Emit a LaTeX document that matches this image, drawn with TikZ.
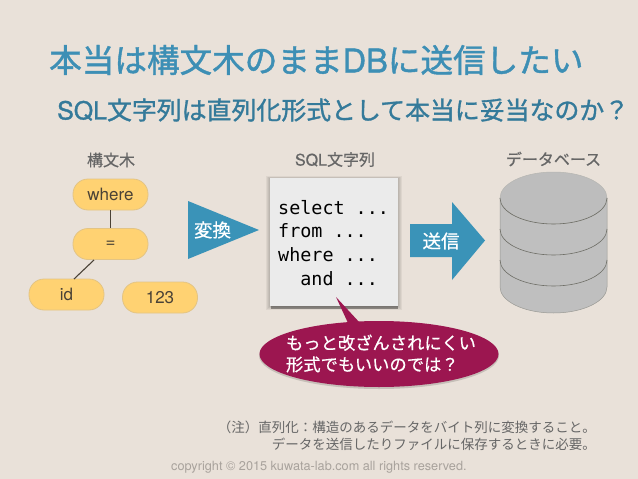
\documentclass[tikz,border=0pt]{standalone}
\usepackage{fontspec}
\setmainfont{Noto Sans CJK JP}
\newfontfamily\semib[FakeBold=0.5]{Noto Sans CJK JP}
\newfontfamily\strongf[FakeBold=1.3]{Noto Sans CJK JP}
\newfontfamily\latinf{TeX Gyre Heros}
\newfontfamily\latinb[FakeBold=0.5]{TeX Gyre Heros}
\newfontfamily\latins[FakeBold=1.3]{TeX Gyre Heros}
\newfontfamily\codef{DejaVu Sans Mono}
\definecolor{bgc}{HTML}{E9E1D9}
\definecolor{bluec}{HTML}{3A93B8}
\definecolor{titlec}{HTML}{3D8FB5}
\definecolor{pillc}{HTML}{FFD272}
\definecolor{pilledge}{HTML}{E3C484}
\definecolor{pilltext}{HTML}{4A4236}
\definecolor{graytext}{HTML}{666666}
\definecolor{wine}{HTML}{9C1650}
\definecolor{cyl}{HTML}{BFBFBF}
\definecolor{cyltop}{HTML}{BDBDBD}
\definecolor{cylline}{HTML}{6E6E66}
\definecolor{paper}{HTML}{EBEBEB}
\tikzset{
  pill/.style={draw=pilledge,line width=0.8pt,fill=pillc,rounded corners=15pt,minimum width=75pt,minimum height=31pt,inner sep=0pt,text=pilltext,font=\fontsize{17}{17}\selectfont\latinf},
  head/.style={text=graytext,font=\fontsize{16}{16}\selectfont\semib,inner sep=0pt},
  edgeline/.style={draw=pilltext,line width=1.1pt},
  bluearrow/.style={fill=bluec,draw=none},
  white label/.style={text=white,font=\fontsize{18.5}{19}\selectfont\semib,inner sep=0pt},
  notes/.style={text=graytext,font=\fontsize{13.5}{15}\selectfont,inner sep=0pt,anchor=east},
  cylarc/.style={draw=cylline,line width=0.6pt},
}
\begin{document}
\begin{tikzpicture}[x=1pt,y=-1pt]
\useasboundingbox (0,0) rectangle (638,479);
\fill[bgc] (0,0) rectangle (638,479);

\node[anchor=west,inner sep=0pt,text=titlec,font=\fontsize{32.6}{33}\selectfont\strongf] (title) at (49,60) {本当は構文木のまま{\latins DB}に送信したい};
\node[anchor=west,inner sep=0pt,text=titlec!85!black,font=\fontsize{24.9}{25}\selectfont\strongf] (sub) at (57,110) {{\latins SQL}文字列は直列化形式として本当に妥当なのか？};

\node[head] (h1) at (111,160) {構文木};
\node[head] (h2) at (335,159.5) {{\latinb SQL}文字列};
\node[head] (h3) at (553.5,159) {データベース};

\node[pill] (where) at (110.5,194.5) {where};
\node[pill] (eq) at (110.5,244) {=};
\node[pill] (id) at (66.5,294.5) {id};
\node[pill] (num) at (160,297.5) {123};
\draw[edgeline] (where) -- (eq);
\coordinate (idtop) at (74,279);
\draw[edgeline] (94,260) -- (idtop);

\fill[bluearrow] (188,201) -- (259,230) -- (188,259) -- cycle;
\node[white label] (conv) at (212.5,230) {変換};

\foreach \o in {1,2,3,4}{\fill[black,opacity=.05] (270-\o,178-\o/2) rectangle (398+\o,306+\o);}
\fill[black,opacity=.35] (271,305) rectangle (398,309);
\fill[paper] (270,178) rectangle (398,305.5);
\node[anchor=north west,inner sep=0pt,align=left,font=\fontsize{18.4}{23.6}\selectfont\codef,text=black] (code) at (278,200)
  {select ...\\from ...\\where ...\\\ \ and ...};

\fill[bluearrow] (410,224) -- (452,224) -- (452,202) -- (485,240.5) -- (452,280) -- (452,257) -- (410,257) -- cycle;
\node[white label] (send) at (441,241) {送信};

% cylinder
\fill[cyl] (500,198) -- (607,198) -- (607,287) arc[start angle=0,end angle=180,x radius=53.5,y radius=26] -- cycle;
\draw[draw=cylline!70,line width=0.5pt] (500,198) -- (500,287) arc[start angle=180,end angle=0,x radius=53.5,y radius=26] -- (607,198);
\filldraw[fill=cyltop,draw=cylline!50,line width=0.5pt] (553.5,198) ellipse[x radius=53.5,y radius=26];
\draw[cylarc] (500,198) arc[start angle=180,end angle=0,x radius=53.5,y radius=26];
\draw[cylarc] (500,229) arc[start angle=180,end angle=0,x radius=53.5,y radius=26];
\draw[cylarc] (500,260) arc[start angle=180,end angle=0,x radius=53.5,y radius=26];

% bubble
\fill[black,opacity=.15] (379,355.5) ellipse[x radius=120,y radius=33.5];
\fill[wine] (379,354) ellipse[x radius=119.5,y radius=33];
\fill[wine] (336,297) -- (360,323) -- (348,323) -- cycle;
\node[text=white,align=left,inner sep=0pt,font=\fontsize{17.3}{21.5}\selectfont\semib] (ask) at (381,353.5) {もっと改ざんされにくい\\形式でもいいのでは？};

\node[notes] (n1) at (596,427.5) {（注）直列化：構造のあるデータをバイト列に変換すること。};
\node[notes] (n2) at (596,444) {データを送信したりファイルに保存するときに必要。};
\node[anchor=west,inner sep=0pt,text=black!28!bgc,font=\fontsize{12.7}{13}\selectfont\latinf] (copy) at (171,467) {copyright © 2015 kuwata-lab.com all rights reserved.};
\end{tikzpicture}
\end{document}
